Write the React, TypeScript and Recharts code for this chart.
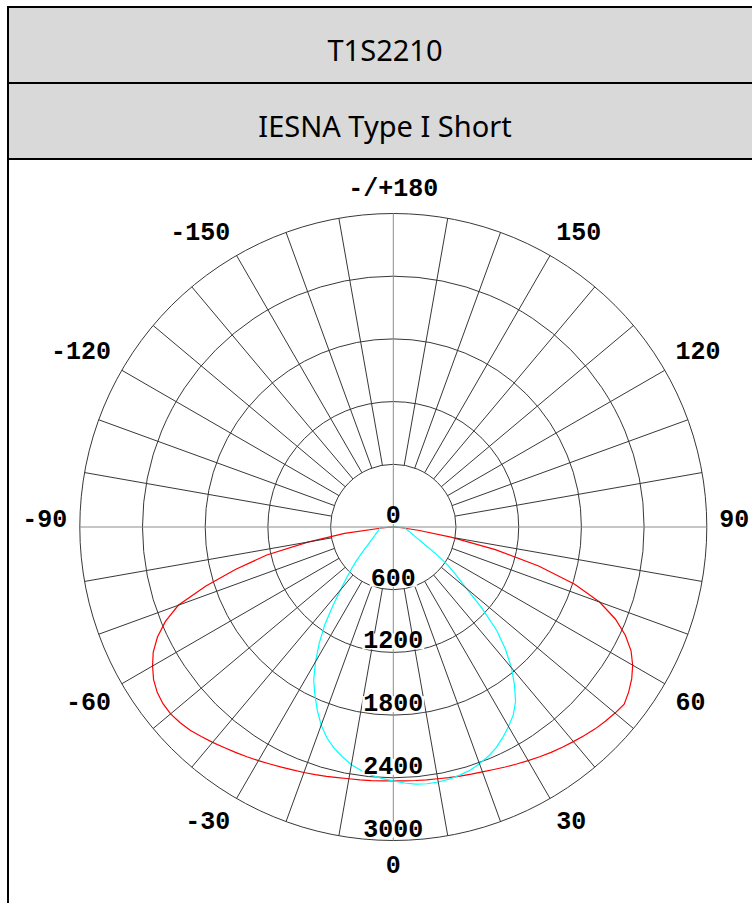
import { RadarChart, Radar, PolarGrid, PolarAngleAxis, PolarRadiusAxis } from 'recharts';

// vertical angle (deg), 0 = straight down, negative to the left
const angles = [
  -90, -87.5, -85, -82.5, -80, -77.5, -75, -72.5, -70, -67.5, -65, -62.5, -60, -57.5, -55, -52.5,
  -50, -47.5, -45, -42.5, -40, -37.5, -35, -32.5, -30, -27.5, -25, -22.5, -20, -17.5, -15, -12.5,
  -10, -7.5, -5, -2.5, 0, 2.5, 5, 7.5, 10, 12.5, 15, 17.5, 20, 22.5, 25, 27.5,
  30, 32.5, 35, 37.5, 40, 42.5, 45, 47.5, 50, 52.5, 55, 57.5, 60, 62.5, 65, 67.5,
  70, 72.5, 75, 77.5, 80, 82.5, 85, 87.5, 90,
];

// candela, lateral plane (red)
const redCandela = [
  0, 30, 110, 470, 830, 1240, 1560, 1880, 2190, 2360, 2490, 2590, 2660, 2720, 2758, 2778,
  2782, 2770, 2750, 2720, 2690, 2660, 2633, 2607, 2582, 2557, 2535, 2515, 2500, 2484, 2470, 2456,
  2446, 2440, 2436, 2432, 2430, 2432, 2435, 2440, 2446, 2456, 2468, 2480, 2493, 2512, 2534, 2557,
  2581, 2607, 2633, 2657, 2681, 2706, 2732, 2752, 2770, 2785, 2750, 2705, 2645, 2565, 2450, 2300,
  2100, 1820, 1440, 1000, 560, 240, 80, 25, 0,
];

// candela, cross plane (cyan)
const cyanCandela = [
  0, 110, 128, 135, 140, 146, 152, 162, 172, 184, 198, 215, 237, 262, 297, 345,
  401, 480, 565, 665, 785, 950, 1145, 1320, 1490, 1650, 1775, 1900, 2018, 2115, 2190, 2252,
  2310, 2350, 2385, 2410, 2430, 2452, 2470, 2478, 2478, 2472, 2458, 2440, 2410, 2375, 2330, 2270,
  2205, 2135, 2040, 1905, 1760, 1590, 1400, 1150, 910, 760, 640, 497, 374, 300, 251, 215,
  190, 170, 154, 140, 129, 120, 110, 90, 0,
];

const angleLabels = [-150, -120, -90, -60, -30, 0, 30, 60, 90, 120, 150, 180];
const spokeAngles = [
  -170, -160, -150, -140, -130, -120, -110, -100, -80, -70, -60, -50, -40, -30, -20, -10,
  10, 20, 30, 40, 50, 60, 70, 80, 100, 110, 120, 130, 140, 150, 160, 170,
];
const axisAngles = [-90, 0, 90, 180];
const candelaTicks = [0, 600, 1200, 1800, 2400, 3000];

const data = angles.map((angle, i) => ({ angle, red: redCandela[i], cyan: cyanCandela[i] }));

const R = 313.5;
const labelFont = { fontFamily: '"Liberation Mono", monospace', fontWeight: 700, fontSize: 25 };

// angle labels around the outside
const AngleTick = (props: any) => {
  const { x, y, payload } = props;
  const v = payload.value;
  const anchor = v === 0 || v === 180 ? 'middle' : v > 0 ? 'start' : 'end';
  const dy = Math.abs(v) === 90 ? 0 : Math.abs(v) < 90 ? 20 : -5;
  return (
    <text x={x} y={y + dy} textAnchor={anchor} fill="#000" style={labelFont}>
      {v === 180 ? '-/+180' : v}
    </text>
  );
};

// candela labels down the 0 line, with a white box behind
const RadiusTick = (props: any) => {
  const { x, y, payload } = props;
  const label = String(payload.value);
  const w = label.length * 15 + 2;
  return (
    <g>
      <rect x={x - w / 2} y={y - 19} width={w} height={16} fill="#fff" />
      <text x={x} y={y - 4} textAnchor="middle" fill="#000" style={labelFont}>
        {label}
      </text>
    </g>
  );
};

export default function App() {
  const headerText = {
    width: 752,
    textAlign: 'center' as const,
    fontFamily: '"Noto Sans", sans-serif',
    fontSize: 29,
    color: '#000',
  };

  return (
    <div style={{ position: 'absolute', left: 0, top: 0, width: 752, height: 903, overflow: 'hidden', background: '#fff' }}>
      <div
        style={{
          position: 'absolute', left: 7, top: 6, width: 800, height: 78, boxSizing: 'border-box',
          borderTop: '2px solid #000', borderLeft: '2px solid #000', borderBottom: '2px solid #000',
          background: '#d9d9d9',
        }}
      >
        <div style={{ ...headerText, paddingTop: 22 }}>T1S2210</div>
      </div>
      <div
        style={{
          position: 'absolute', left: 7, top: 84, width: 800, height: 76, boxSizing: 'border-box',
          borderLeft: '2px solid #000', borderBottom: '2px solid #000', background: '#d9d9d9',
        }}
      >
        <div style={{ ...headerText, paddingTop: 22 }}>IESNA Type I Short</div>
      </div>
      <div style={{ position: 'absolute', left: 7, top: 160, width: 2, height: 743, background: '#000' }} />

      <div style={{ position: 'absolute', left: 0, top: 160 }}>
        <RadarChart
          width={752}
          height={743}
          data={data}
          cx={393.3}
          cy={367}
          outerRadius={R}
          startAngle={-270}
          endAngle={90}
          margin={{ top: 0, right: 0, bottom: 0, left: 0 }}
        >
          <PolarGrid gridType="circle" radialLines={false} stroke="#383838" strokeWidth={1} />
          <PolarAngleAxis
            angleAxisId="spokes"
            type="number"
            dataKey="angle"
            domain={[-180, 180]}
            ticks={spokeAngles}
            tick={false}
            axisLine={false}
            orientation="inner"
            tickSize={R - R / 5}
            tickLine={{ stroke: '#383838', strokeWidth: 1 }}
          />
          <PolarAngleAxis
            angleAxisId="axes"
            type="number"
            dataKey="angle"
            domain={[-180, 180]}
            ticks={axisAngles}
            tick={false}
            axisLine={false}
            orientation="inner"
            tickSize={R}
            tickLine={{ stroke: '#8c8c8c', strokeWidth: 1 }}
          />
          <PolarAngleAxis
            type="number"
            dataKey="angle"
            domain={[-180, 180]}
            ticks={angleLabels}
            axisLine={false}
            tickLine={false}
            tickSize={12.5}
            tick={<AngleTick />}
          />
          <Radar
            dataKey="red"
            stroke="#ff0000"
            strokeWidth={1.2}
            fill="none"
            fillOpacity={0}
            dot={false}
            isAnimationActive={false}
          />
          <Radar
            dataKey="cyan"
            stroke="#00ffff"
            strokeWidth={1.2}
            fill="none"
            fillOpacity={0}
            dot={false}
            isAnimationActive={false}
          />
          <PolarRadiusAxis
            type="number"
            angle={-90}
            domain={[0, 3000]}
            ticks={candelaTicks}
            axisLine={false}
            tickLine={false}
            tick={<RadiusTick />}
          />
        </RadarChart>
      </div>
    </div>
  );
}
